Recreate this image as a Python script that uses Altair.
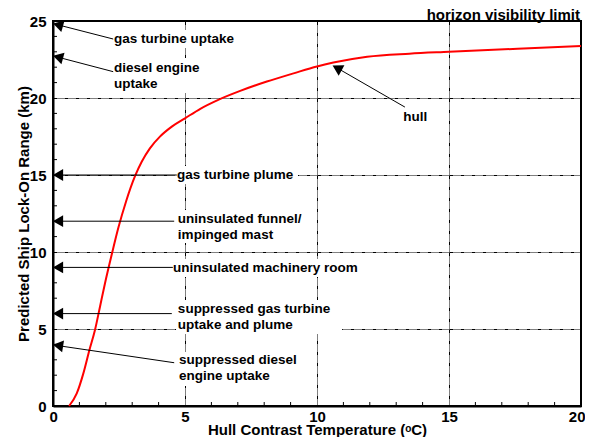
import altair as alt
import pandas as pd

FONT = "Liberation Sans"

# --- hull curve ---
hull_temp = [0.61, 0.9, 1.15, 1.38, 1.59, 1.78, 1.97, 2.22, 2.48, 2.77, 3.11, 3.36, 3.67, 4.05,
             4.5, 5.0, 5.58, 6.26, 7.09, 8.1, 9.11, 10.0, 10.62, 11.9, 13.5, 15.0, 17.6, 20.0]
hull_range = [0, 0.82, 2.12, 3.64, 4.93, 6.45, 7.97, 9.8, 11.6, 13.3, 14.94, 15.86, 16.73, 17.49,
              18.14, 18.68, 19.3, 19.88, 20.46, 21.07, 21.6, 22.05, 22.3, 22.68, 22.88, 23.0, 23.2, 23.38]

# --- annotations ---
ann_text = ["gas turbine uptake", "diesel engine\nuptake", "gas turbine plume",
            "uninsulated funnel/\nimpinged mast", "uninsulated machinery room",
            "suppressed gas turbine\nuptake and plume", "suppressed diesel\nengine uptake"]
ann_label_x = [2.31, 2.31, 4.70, 4.73, 4.55, 4.73, 4.77]
ann_label_y = [23.83, 21.95, 15.0, 12.14, 8.96, 6.3, 2.99]
ann_head_x = [0.19, 0.19, 0.19, 0.19, 0.19, 0.19, 0.19, 10.76]
ann_head_y = [24.75, 22.65, 15.0, 12.0, 9.0, 6.0, 3.92, 21.95]
ann_head_angle = [16, 15, 0, 0, 0, 0, 9, 29]
ann_end_x = [2.28, 2.28, 4.69, 4.59, 4.54, 4.50, 4.59, 13.33]
ann_end_y = [23.83, 21.71, 15.0, 12.0, 9.0, 6.0, 2.81, 19.41]

hull_label = ["hull"]
hull_label_x = [13.72]
hull_label_y = [18.77]

top_note = ["horizon visibility limit"]

# white label backgrounds (hide grid behind labels)
box_x1 = [2.23, 2.23, 4.62, 4.66, 4.47, 4.66, 4.70]
box_x2 = [7.00, 5.57, 9.28, 9.43, 11.67, 10.95, 9.36]
box_y1 = [23.25, 20.32, 14.42, 10.58, 8.38, 4.68, 1.30]
box_y2 = [24.42, 22.60, 15.58, 12.73, 9.55, 6.88, 3.51]

x_major = [0, 5, 10, 15, 20]
y_major = [0, 5, 10, 15, 20, 25]
x_minor = [1, 2, 3, 4, 6, 7, 8, 9, 11, 12, 13, 14, 16, 17, 18, 19]
y_minor = [1, 2, 3, 4, 6, 7, 8, 9, 11, 12, 13, 14, 16, 17, 18, 19, 21, 22, 23, 24]

W, H = 528, 385

df_curve = pd.DataFrame({"temp": hull_temp, "range": hull_range})
df_heads = pd.DataFrame({"hx": ann_head_x, "hy": ann_head_y, "ang": ann_head_angle,
                         "ex": ann_end_x, "ey": ann_end_y})
df_labels = pd.DataFrame({"txt": ann_text, "lx": ann_label_x, "ly": ann_label_y})
df_boxes = pd.DataFrame({"bx1": box_x1, "bx2": box_x2, "by1": box_y1, "by2": box_y2})
df_hull = pd.DataFrame({"txt": hull_label, "lx": hull_label_x, "ly": hull_label_y})
df_top = pd.DataFrame({"txt": top_note, "lx": [20], "ly": [25]})
df_xminor = pd.DataFrame({"t": x_minor})
df_yminor = pd.DataFrame({"t": y_minor})

xs = alt.Scale(domain=[0, 20], nice=False, zero=False)
ys = alt.Scale(domain=[0, 25], nice=False, zero=False)

grid_dash = [4, 1, 1, 1, 1, 1, 1, 1]

x_axis = alt.Axis(values=x_major, title="Hull Contrast Temperature (ᵒC)",
                  labelFont=FONT, labelFontSize=15, labelFontWeight="bold", labelColor="black",
                  labelPadding=3, ticks=False, domainColor="black", domainWidth=2,
                  grid=True, gridColor="black", gridDash=grid_dash, gridWidth=1, gridOpacity=1,
                  titleFont=FONT, titleFontSize=15, titleFontWeight="bold", titleColor="black",
                  titleBaseline="alphabetic", titleY=28, titleX=W / 2,
                  labelFlush=True, labelFlushOffset=4)
y_axis = alt.Axis(values=y_major, title="Predicted Ship Lock-On Range (km)",
                  labelFont=FONT, labelFontSize=15, labelFontWeight="bold", labelColor="black",
                  labelPadding=7, ticks=False, domainColor="black", domainWidth=2,
                  grid=True, gridColor="black", gridDash=grid_dash, gridWidth=1, gridOpacity=1,
                  titleFont=FONT, titleFontSize=15, titleFontWeight="bold", titleColor="black",
                  titleBaseline="alphabetic", titleAngle=270, titleX=-25, titleY=H / 2,
                  titleAlign="center", labelFlush=False)


def X(field):
    return alt.X(field, scale=xs, axis=x_axis)


def Y(field):
    return alt.Y(field, scale=ys, axis=y_axis)


boxes = alt.Chart(df_boxes).mark_rect(color="white").encode(
    x=X("bx1:Q"), x2="bx2:Q", y=Y("by1:Q"), y2="by2:Q")

xticks = alt.Chart(df_xminor).mark_rule(color="black", strokeWidth=1).encode(
    x=X("t:Q"), y=alt.value(H), y2=alt.value(H - 4))
yticks = alt.Chart(df_yminor).mark_rule(color="black", strokeWidth=1).encode(
    y=Y("t:Q"), x=alt.value(0), x2=alt.value(4))

curve = alt.Chart(df_curve).mark_line(color="#ff0000", strokeWidth=2, interpolate="monotone").encode(
    x=X("temp:Q"), y=Y("range:Q"))

lines = alt.Chart(df_heads).mark_rule(color="black", strokeWidth=1).encode(
    x=X("hx:Q"), y=Y("hy:Q"), x2="ex:Q", y2="ey:Q")

heads = alt.Chart(df_heads).mark_point(shape="triangle-left", filled=True, color="black",
                                       opacity=1, size=140, strokeWidth=0).encode(
    x=X("hx:Q"), y=Y("hy:Q"), angle=alt.Angle("ang:Q", scale=None))

labels = alt.Chart(df_labels).mark_text(font=FONT, fontSize=13.5, fontWeight="bold", color="black",
                                        align="left", baseline="middle", lineBreak="\n",
                                        lineHeight=16).encode(
    x=X("lx:Q"), y=Y("ly:Q"), text="txt:N")

hull_text = alt.Chart(df_hull).mark_text(font=FONT, fontSize=13.5, fontWeight="bold", color="black",
                                         align="center", baseline="middle").encode(
    x=X("lx:Q"), y=Y("ly:Q"), text="txt:N")

top_text = alt.Chart(df_top).mark_text(font=FONT, fontSize=15, fontWeight="bold", color="black",
                                       align="right", baseline="alphabetic", dy=-1, dx=-1).encode(
    x=X("lx:Q"), y=Y("ly:Q"), text="txt:N")

chart = alt.layer(boxes, xticks, yticks, curve, lines, heads, labels, hull_text, top_text).properties(
    width=W, height=H,
    padding={"left": 45, "top": 13, "right": 4, "bottom": 31},
    autosize=alt.AutoSizeParams(type="none"),
).configure_view(stroke="black", strokeWidth=2)

chart.save("out.html", embed_options={"renderer": "svg", "actions": False})
